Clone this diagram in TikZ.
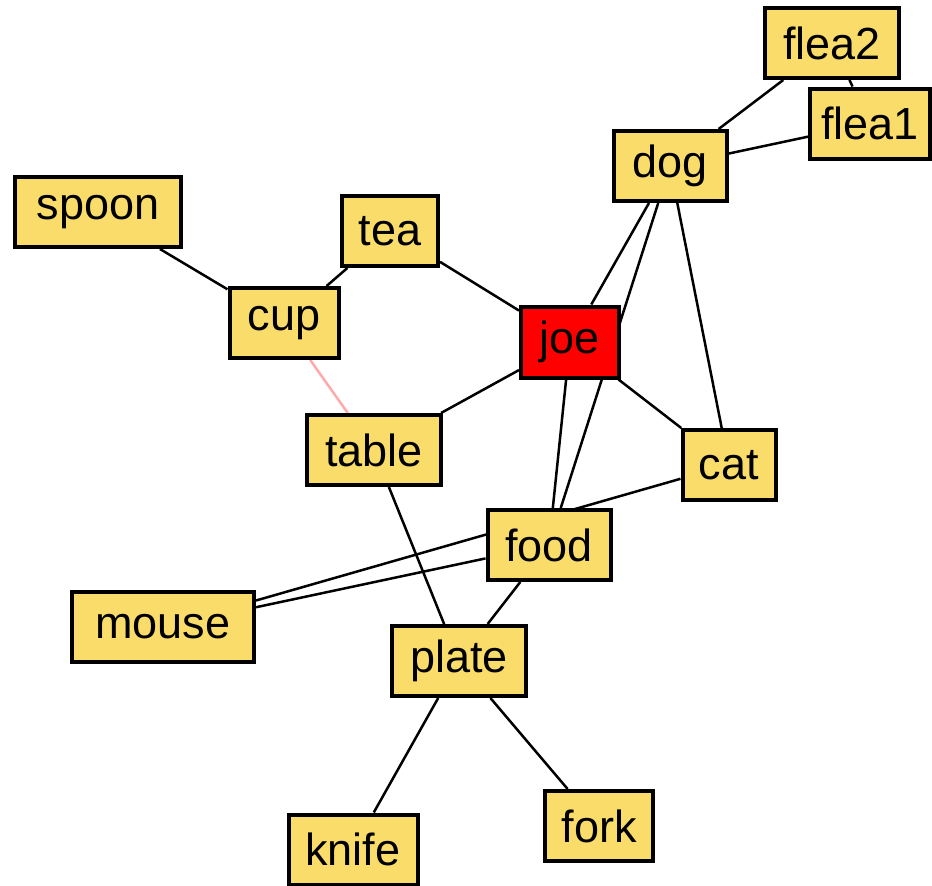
\documentclass[tikz,border=0pt]{standalone}
\usepackage{fontspec}
\setmainfont{Liberation Sans}
\usetikzlibrary{backgrounds}

\definecolor{boxfill}{HTML}{F9DC6A}
\definecolor{joered}{HTML}{FF0000}
\definecolor{weaklink}{HTML}{FFAAAA}

\begin{document}
\begin{tikzpicture}[
    x = 1pt, y = -1pt, % one unit per pixel, y goes down
    word/.style = {draw = black, line width = 4pt, fill = boxfill,
        inner sep = 0pt, minimum height = 70pt,
        font = \fontsize{45}{48}\selectfont},
    link/.style = {line width = 2.5pt, draw = black}, % edge style
    ]
    \useasboundingbox (0,0) rectangle (932,886);

    \node[word, minimum width = 134pt] (flea2) at (832,43) {flea2};
    \node[word, minimum width = 120pt] (flea1) at (870,123.5) {flea1};
    \node[word, minimum width = 113pt] (dog) at (670,166) {dog};
    \node[word, minimum width = 166pt] (spoon) at (98,212) {spoon};
    \node[word, minimum width = 96pt] (tea) at (390,231) {tea};
    \node[word, minimum width = 109pt] (cup) at (284,323) {cup};
    \node[word, minimum width = 98pt, minimum height = 71pt, fill = joered] (joe) at (570,342) {joe};
    \node[word, minimum width = 134pt] (table) at (374,450) {table};
    \node[word, minimum width = 93pt] (cat) at (729,465) {cat};
    \node[word, minimum width = 123pt] (food) at (549,545) {food};
    \node[word, minimum width = 182pt] (mouse) at (163,627) {mouse};
    \node[word, minimum width = 134pt] (plate) at (459,661) {plate};
    \node[word, minimum width = 108pt] (fork) at (599,826) {fork};
    \node[word, minimum width = 129pt] (knife) at (353,849.5) {knife};

    \begin{pgfonlayer}{background}
    \draw[link] (flea2) -- (dog);
    \draw[link] (flea2) -- (flea1);
    \draw[link] (flea1) -- (dog);
    \draw[link] (dog) -- (joe);
    \draw[link] (dog) -- (food);
    \draw[link] (dog) -- (cat);
    \draw[link] (joe) -- (tea);
    \draw[link] (joe) -- (table);
    \draw[link] (joe) -- (cat);
    \draw[link] (joe) -- (food);
    \draw[link] (tea) -- (cup);
    \draw[link] (spoon) -- (cup);
    \draw[link, draw = weaklink] (cup) -- (table);
    \draw[link] (table) -- (plate);
    \draw[link] (food) -- (plate);
    \draw[link] (mouse) -- (food);
    \draw[link] (mouse) -- (cat);
    \draw[link] (plate) -- (knife);
    \draw[link] (plate) -- (fork);
    \end{pgfonlayer}
\end{tikzpicture}
\end{document}
